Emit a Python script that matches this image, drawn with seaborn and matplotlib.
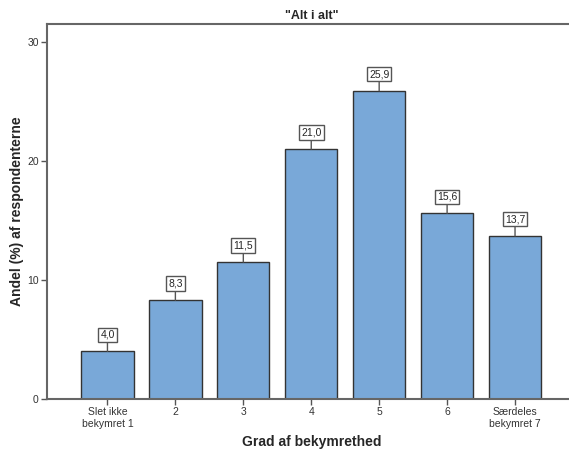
import matplotlib
matplotlib.use("Agg")
import matplotlib.pyplot as plt
import seaborn as sns
import pandas as pd

categories = ["Slet ikke\nbekymret 1", "2", "3", "4", "5", "6", "Særdeles\nbekymret 7"]
values = [4.0, 8.3, 11.5, 21.0, 25.9, 15.6, 13.7]
yticks = [0, 10, 20, 30]

sns.set_style("white")
plt.rcParams['font.family'] = ['Liberation Sans', 'DejaVu Sans']

df = pd.DataFrame({"cat": categories, "val": values})

fig = plt.figure(figsize=(5.69, 4.55), dpi=100)
ax = fig.add_axes([0.0826, 0.123, 0.93, 0.824])

sns.barplot(data=df, x="cat", y="val", ax=ax, color="#79A8D8", saturation=1,
            width=0.77, edgecolor="#333333", linewidth=1.0)

ax.set_ylim(0, 31.5)
ax.set_xlim(-0.89, 6.9)
ax.set_yticks(yticks)
ax.set_yticklabels([str(t) for t in yticks], fontsize=7.5, color="#333333")
ax.tick_params(axis='both', left=True, bottom=True, length=4, width=1,
               color="#555555", direction='out', pad=2)
ax.tick_params(axis='x', labelsize=7.5, labelcolor="#333333")
for s in ax.spines.values():
    s.set_color("#666666")
    s.set_linewidth(1.5)

ax.set_xlabel("Grad af bekymrethed", fontsize=10, fontweight='bold', labelpad=4)
ax.set_ylabel("Andel (%) af respondenterne", fontsize=10, fontweight='bold', labelpad=2)
ax.set_title('"Alt i alt"', fontsize=9, fontweight='bold', pad=4)

for i, v in enumerate(values):
    label = f"{v:.1f}".replace(".", ",")
    ax.annotate(label, xy=(i, v), xytext=(0, 12), textcoords="offset points",
                ha="center", va="center", fontsize=7.5,
                bbox=dict(boxstyle="square,pad=0.2", fc="white", ec="#555555", lw=1),
                arrowprops=dict(arrowstyle="-", color="#555555", lw=1, shrinkA=0, shrinkB=0))

fig.savefig("out.png", dpi=100)
